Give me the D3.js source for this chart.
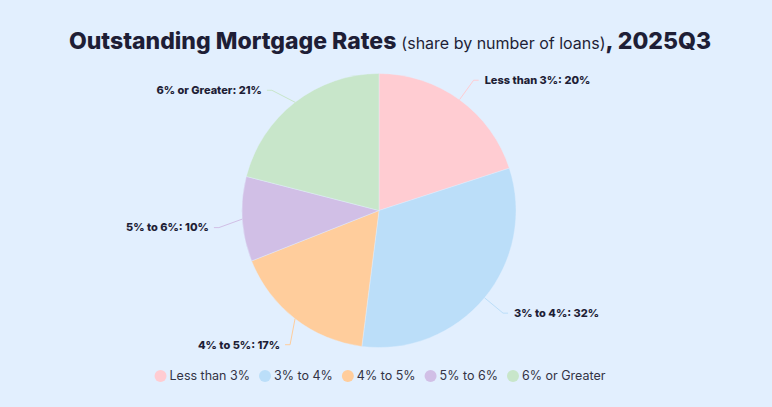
<!DOCTYPE html>
<html>
<head>
<meta charset="utf-8">
<script src="https://cdn.jsdelivr.net/npm/d3@7"></script>
<style>
  html, body { margin: 0; padding: 0; background: #E2EFFE; }
  svg { display: block; font-family: Inter, "Noto Sans", sans-serif; }
</style>
</head>
<body>
<svg id="chart"></svg>
<script>
let categories = ["Less than 3%", "3% to 4%", "4% to 5%", "5% to 6%", "6% or Greater"];
let shares = [20, 32, 17, 10, 21];
let colors = ["#FFCCD2", "#BBDEF9", "#FFCD9C", "#D1BFE6", "#C8E6CA"];

let width = 772;
let height = 407;
let cx = 379, cy = 210.5, radius = 137;
let textColor = "#1E1E36";

let svg = d3.select("#chart").attr("width", width).attr("height", height);

svg.append("rect").attr("width", width).attr("height", height).attr("fill", "#E2EFFE");

// title
let title = svg.append("text")
    .attr("x", width / 2 + 4)
    .attr("y", 49)
    .attr("text-anchor", "middle")
    .attr("fill", textColor);
title.append("tspan").attr("font-weight", 800).attr("font-size", "23px").text("Outstanding Mortgage Rates ");
title.append("tspan").attr("font-weight", 400).attr("font-size", "16px").text("(share by number of loans)");
title.append("tspan").attr("font-weight", 800).attr("font-size", "23px").text(", 2025Q3");

let data = categories.map((c, i) => ({name: c, value: shares[i], color: colors[i]}));

let pie = d3.pie().value(d => d.value).sort(null);
let arc = d3.arc().innerRadius(0).outerRadius(radius);
let arcs = pie(data);

let g = svg.append("g").attr("transform", "translate(" + cx + "," + cy + ")");

g.selectAll("path")
    .data(arcs)
    .enter()
    .append("path")
    .attr("d", arc)
    .attr("fill", d => d.data.color)
    .attr("stroke", "#E2EFFE")
    .attr("stroke-width", 0.4);

// labels with connectors
let dist = 24;
arcs.forEach(a => {
    let mid = (a.startAngle + a.endAngle) / 2;
    let left = Math.sin(mid) < 0;
    let sx = radius * Math.sin(mid);
    let sy = -radius * Math.cos(mid);
    let ly = -(radius + dist) * Math.cos(mid) + (left ? 7 : 0);
    let bx = Math.sqrt(Math.max(0, (radius + dist) ** 2 - ly * ly)) * (left ? -1 : 1);
    let ex = bx + (left ? -5 : 5);

    g.append("path")
        .attr("d", d3.line()([[sx, sy], [bx, ly], [ex, ly]]))
        .attr("fill", "none")
        .attr("stroke", a.data.color)
        .attr("stroke-width", 1);

    g.append("text")
        .attr("x", ex + (left ? -5 : 6))
        .attr("y", ly)
        .attr("dy", "0.35em")
        .attr("text-anchor", left ? "end" : "start")
        .attr("font-size", "11px")
        .attr("font-weight", 800)
        .attr("fill", textColor)
        .text(a.data.name + ": " + a.data.value + "%");
});

// legend
let legend = svg.append("g");
let x = 0;
data.forEach(d => {
    let item = legend.append("g").attr("transform", "translate(" + x + ",0)");
    item.append("circle").attr("cx", 6).attr("cy", 0).attr("r", 6).attr("fill", d.color);
    let t = item.append("text")
        .attr("x", 15)
        .attr("dy", "0.35em")
        .attr("font-size", "12.5px")
        .attr("fill", "#333344")
        .text(d.name);
    x += 15 + t.node().getComputedTextLength() + 9;
});
let legendWidth = x - 9;
legend.attr("transform", "translate(" + (width / 2 - 6 - legendWidth / 2) + ",376)");
</script>
</body>
</html>
